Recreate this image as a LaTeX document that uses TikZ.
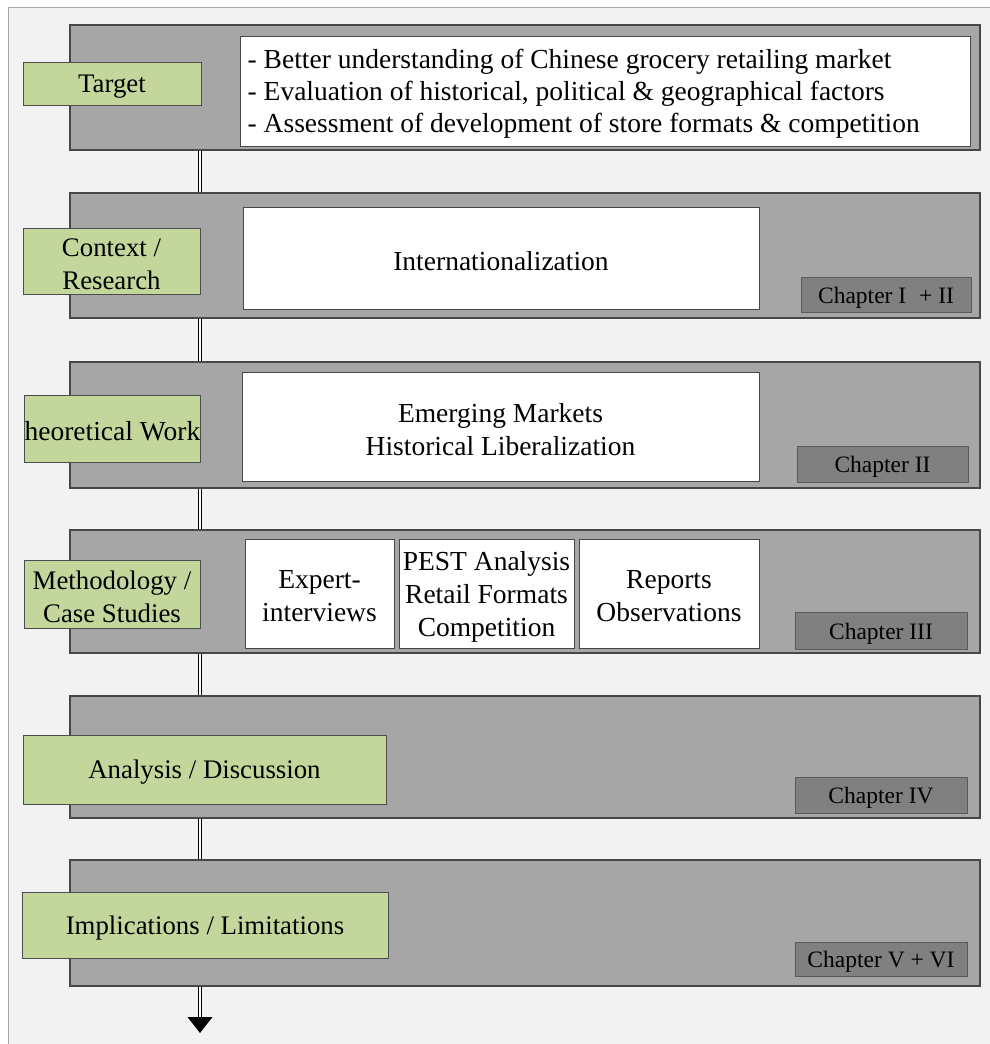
\documentclass[tikz,border=0pt]{standalone}
\usepackage{fontspec}
\setmainfont{Liberation Serif}
\usetikzlibrary{calc}
\definecolor{bgfill}{HTML}{F2F2F2}
\definecolor{bgline}{HTML}{A6A6A6}
\definecolor{panelfill}{HTML}{A6A6A6}
\definecolor{panelline}{HTML}{474747}
\definecolor{greenfill}{HTML}{C3D69B}
\definecolor{greenline}{HTML}{4D4D4D}
\definecolor{chapfill}{HTML}{808080}
\definecolor{chapline}{HTML}{5A5A5A}
\tikzset{
  panel/.style={draw=panelline, fill=panelfill, line width=1.2pt, inner sep=0pt},
  stage/.style={draw=greenline, fill=greenfill, line width=1pt, inner sep=0pt},
  content/.style={draw=panelline, fill=white, line width=1pt, inner sep=0pt},
  chapbox/.style={draw=chapline, fill=chapfill, line width=0.8pt, inner sep=0pt},
  txt/.style={inner sep=0pt, align=center, font=\fontsize{27.5}{33}\selectfont},
  stagetxt/.style={inner sep=0pt, align=center, font=\fontsize{26.8}{33}\selectfont},
  chaptxt/.style={inner sep=0pt, font=\fontsize{23.5}{27}\selectfont},
  flowline/.style={draw=black, line width=1pt, double=white, double distance=1.8pt},
}
\begin{document}
\begin{tikzpicture}[x=1pt, y=-1pt]
\useasboundingbox (0,0) rectangle (990,1044);
% sheet
\fill[bgfill] (8,7) rectangle (1000,1060);
\draw[bgline, line width=1pt] (8,1060) -- (8,7) -- (1000,7);

% vertical axis of the flow
\coordinate (axis) at (200,0);

% phase panels
\node[panel, minimum width=910pt, minimum height=125pt] (p1) at (525,87.5) {};
\node[panel, minimum width=910pt, minimum height=125pt] (p2) at (525,255.5) {};
\node[panel, minimum width=910pt, minimum height=126pt] (p3) at (525,425) {};
\node[panel, minimum width=910pt, minimum height=123pt] (p4) at (525,591.5) {};
\node[panel, minimum width=910pt, minimum height=122pt] (p5) at (525,757) {};
\node[panel, minimum width=910pt, minimum height=126pt] (p6) at (525,923) {};

% connectors between the panels
\draw[flowline] (p1.south -| axis) -- (p2.north -| axis);
\draw[flowline] (p2.south -| axis) -- (p3.north -| axis);
\draw[flowline] (p3.south -| axis) -- (p4.north -| axis);
\draw[flowline] (p4.south -| axis) -- (p5.north -| axis);
\draw[flowline] (p5.south -| axis) -- (p6.north -| axis);
\coordinate (arrowbase) at (200,1017);
\coordinate (tip) at (200,1033);
\draw[flowline] (p6.south -| axis) -- (arrowbase);
\fill[black] ($(arrowbase)+(-12.5,0)$) -- ($(arrowbase)+(12.5,0)$) -- (tip) -- cycle;

% stage labels
\node[stage, minimum width=178pt, minimum height=43pt] (g1) at (112,83.5) {};
\node[stage, minimum width=177pt, minimum height=66pt] (g2) at (111.5,261) {};
\node[stage, minimum width=176pt, minimum height=67pt] (g3) at (112,428.5) {};
\node[stage, minimum width=176pt, minimum height=68pt] (g4) at (112,594) {};
\node[stage, minimum width=363pt, minimum height=69pt] (g5) at (204.5,769.5) {};
\node[stage, minimum width=366pt, minimum height=66pt] (g6) at (205,925) {};

\node[stagetxt] (g1t) at ($(g1.center)+(0,3)$) {Target};
\node[stagetxt] (g2t) at ($(g2.center)+(0,3)$) {Context /\\Research};
\begin{scope}
  % the label is wider than its box: keep only the part inside the border
  \clip ($(g3.south west)+(1.5,0)$) rectangle (g3.north east);
  \node[txt, anchor=east] (g3t) at ($(g3.east)+(0,3)$) {Theoretical Work};
\end{scope}
\node[stagetxt] (g4t) at ($(g4.center)+(0,3)$) {Methodology /\\Case Studies};
\node[stagetxt] (g5t) at ($(g5.center)+(0,3)$) {Analysis / Discussion};
\node[stagetxt] (g6t) at ($(g6.center)+(0,3)$) {Implications / Limitations};

% content boxes
\node[content, minimum width=730pt, minimum height=110pt] (w1) at (605,91) {};
\node[content, minimum width=516pt, minimum height=102pt] (w2) at (501,258) {};
\node[content, minimum width=517pt, minimum height=109pt] (w3) at (500.5,426.5) {};
\node[content, minimum width=149pt, minimum height=109pt] (w4a) at (319.5,593.5) {};
\node[content, minimum width=175pt, minimum height=109pt] (w4b) at (486.5,593.5) {};
\node[content, minimum width=180pt, minimum height=109pt] (w4c) at (669,593.5) {};

\node[txt, anchor=west, align=left, font=\fontsize{27.5}{32}\selectfont] (w1t)
  at ($(w1.west)+(8,3)$)
  {- Better understanding of Chinese grocery retailing market\\
   - Evaluation of historical, political \& geographical factors\\
   - Assessment of development of store formats \& competition};
\node[txt] (w2t) at ($(w2.center)+(0,3)$) {Internationalization};
\node[txt] (w3t) at ($(w3.center)+(0,3)$) {Emerging Markets\\Historical Liberalization};
\node[txt] (w4at) at ($(w4a.center)+(0,3)$) {Expert-\\interviews};
\node[txt] (w4bt) at ($(w4b.center)+(0,3)$) {PEST Analysis\\Retail Formats\\Competition};
\node[txt] (w4ct) at ($(w4c.center)+(0,3)$) {Reports\\Observations};

% chapter references
\node[chapbox, minimum width=170pt, minimum height=35pt] (c1) at (886,294.5) {};
\node[chapbox, minimum width=171pt, minimum height=36pt] (c2) at (882.5,464) {};
\node[chapbox, minimum width=172pt, minimum height=37pt] (c3) at (881,630.5) {};
\node[chapbox, minimum width=172pt, minimum height=36pt] (c4) at (881,795) {};
\node[chapbox, minimum width=172pt, minimum height=34pt] (c5) at (881,959) {};

\node[chaptxt] (c1t) at ($(c1.center)+(0,3)$) {Chapter I\hspace{0.55em}+ II};
\node[chaptxt] (c2t) at ($(c2.center)+(0,3)$) {Chapter II};
\node[chaptxt] (c3t) at ($(c3.center)+(0,3)$) {Chapter III};
\node[chaptxt] (c4t) at ($(c4.center)+(0,3)$) {Chapter IV};
\node[chaptxt] (c5t) at ($(c5.center)+(0,3)$) {Chapter V + VI};
\end{tikzpicture}
\end{document}
